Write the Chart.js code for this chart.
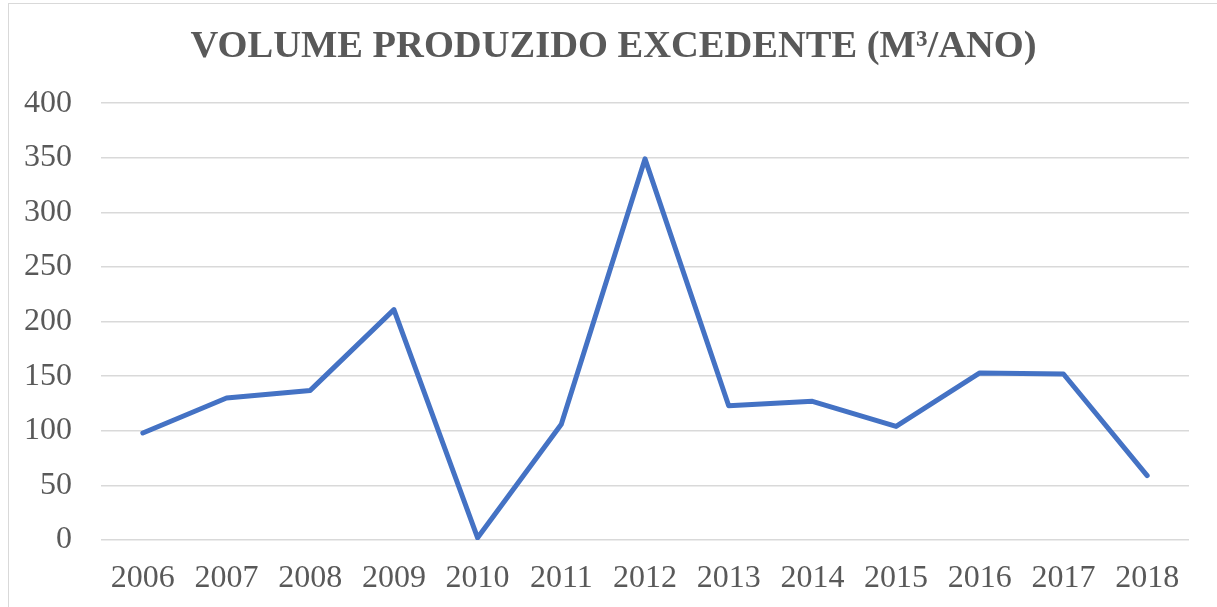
<!DOCTYPE html>
<html>
<head>
<meta charset="utf-8">
<script src="https://cdn.jsdelivr.net/npm/chart.js@4"></script>
<style>
  html, body { margin:0; padding:0; background:#fff; overflow:hidden; }
  body { width:1217px; height:607px; position:relative; }
  .frame { position:absolute; left:8px; top:3px; width:1240px; height:640px; border:1px solid #d9d9d9; }
  .wrap { position:absolute; left:9px; top:4px; width:1209px; height:603px; }
</style>
</head>
<body>
<div class="frame"></div>
<div class="wrap"><canvas id="chart"></canvas></div>
<script>
const years = ['2006','2007','2008','2009','2010','2011','2012','2013','2014','2015','2016','2017','2018'];
const volume = [98, 130, 137, 211, 2, 106, 349, 123, 127, 104, 153, 152, 59];
const yMax = 400;
const yStep = 50;

const textColor = '#595959';
const gridColor = '#d9d9d9';

new Chart(document.getElementById('chart'), {
  type: 'line',
  data: {
    labels: years,
    datasets: [{
      label: 'Volume',
      data: volume,
      borderColor: '#4472c4',
      borderWidth: 5,
      pointRadius: 0,
      tension: 0,
      borderCapStyle: 'round',
      borderJoinStyle: 'round'
    }]
  },
  options: {
    responsive: true,
    maintainAspectRatio: false,
    animation: false,
    layout: { padding: { left: 0, right: 0, top: 0, bottom: 11 } },
    plugins: {
      legend: { display: false },
      tooltip: { enabled: false },
      title: {
        display: true,
        text: 'VOLUME PRODUZIDO EXCEDENTE (M³/ANO)',
        color: textColor,
        font: { family: 'Liberation Serif', size: 38.5, weight: 'bold', lineHeight: 1.2 },
        padding: { top: 20, bottom: 33 }
      }
    },
    scales: {
      x: {
        offset: true,
        afterFit: s => { s.height = 56; },
        grid: { display: false, drawTicks: false },
        border: { display: false },
        ticks: {
          color: textColor,
          padding: 19,
          maxRotation: 0,
          autoSkip: false,
          font: { family: 'Liberation Serif', size: 32 }
        }
      },
      y: {
        min: 0,
        max: yMax,
        afterFit: s => { s.width = 92; },
        grid: { color: gridColor, lineWidth: 1.5, drawTicks: false },
        border: { display: false },
        ticks: {
          stepSize: yStep,
          color: textColor,
          padding: 29,
          font: { family: 'Liberation Serif', size: 32 }
        }
      },
      // empty right margin, same width as Excel's inner padding
      yRight: {
        position: 'right',
        min: 0,
        max: yMax,
        afterFit: s => { s.width = 29; },
        grid: { display: false, drawTicks: false },
        border: { display: false },
        ticks: { display: false }
      }
    }
  }
});
</script>
</body>
</html>
